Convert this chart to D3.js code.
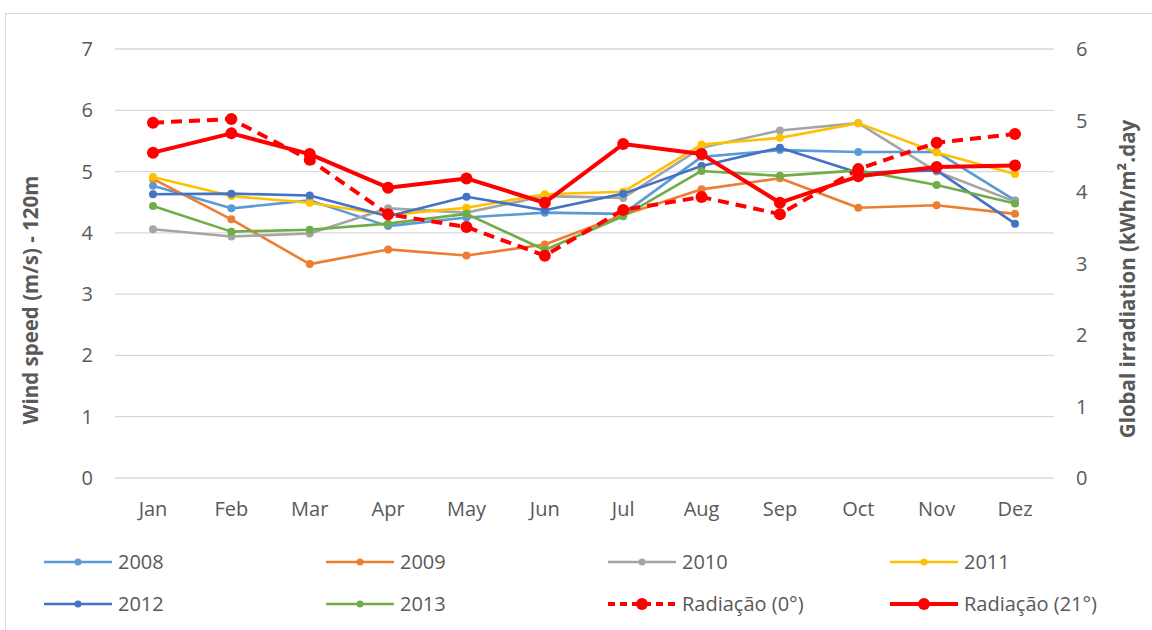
<!DOCTYPE html>
<html>
<head>
<meta charset="utf-8">
<script src="https://cdn.jsdelivr.net/npm/d3@7"></script>
<style>
  body { margin: 0; background: #fff; }
  svg text { font-family: "Open Sans", "Noto Sans", sans-serif; fill: #595959; }
</style>
</head>
<body>
<svg id="chart" width="1152" height="630"></svg>
<script>
var months = ["Jan", "Feb", "Mar", "Apr", "May", "Jun", "Jul", "Aug", "Sep", "Oct", "Nov", "Dez"];

// wind speed (m/s) at 120m, left axis
var wind2008 = [4.77, 4.40, 4.53, 4.11, 4.25, 4.33, 4.31, 5.24, 5.35, 5.32, 5.32, 4.53];
var wind2009 = [4.88, 4.22, 3.49, 3.73, 3.63, 3.81, 4.29, 4.71, 4.89, 4.41, 4.45, 4.31];
var wind2010 = [4.06, 3.94, 3.99, 4.40, 4.33, 4.60, 4.57, 5.39, 5.67, 5.79, 5.00, 4.51];
var wind2011 = [4.91, 4.60, 4.49, 4.29, 4.41, 4.63, 4.67, 5.44, 5.55, 5.79, 5.31, 4.96];
var wind2012 = [4.63, 4.64, 4.61, 4.27, 4.59, 4.37, 4.64, 5.09, 5.39, 4.98, 5.02, 4.15];
var wind2013 = [4.44, 4.02, 4.05, 4.15, 4.31, 3.72, 4.27, 5.01, 4.93, 5.02, 4.78, 4.48];

// global irradiation (kWh/m2.day), right axis
var rad0 = [4.97, 5.02, 4.45, 3.69, 3.51, 3.11, 3.75, 3.93, 3.69, 4.32, 4.69, 4.81];
var rad21 = [4.55, 4.82, 4.53, 4.06, 4.19, 3.85, 4.67, 4.53, 3.85, 4.22, 4.35, 4.37];

var leftTicks = [0, 1, 2, 3, 4, 5, 6, 7];
var rightTicks = [0, 1, 2, 3, 4, 5, 6];

var series = [
  {name: "2008", values: wind2008, color: "#5B9BD5", axis: "left"},
  {name: "2009", values: wind2009, color: "#ED7D31", axis: "left"},
  {name: "2010", values: wind2010, color: "#A5A5A5", axis: "left"},
  {name: "2011", values: wind2011, color: "#FFC000", axis: "left"},
  {name: "2012", values: wind2012, color: "#4472C4", axis: "left"},
  {name: "2013", values: wind2013, color: "#70AD47", axis: "left"},
  {name: "Radiação (0°)", values: rad0, color: "#FF0000", axis: "right", dash: true},
  {name: "Radiação (21°)", values: rad21, color: "#FF0000", axis: "right"}
];

var svg = d3.select("#chart");

// outer chart border
svg.append("rect")
    .attr("x", 5.5).attr("y", 13.5)
    .attr("width", 1160).attr("height", 640)
    .attr("fill", "none")
    .attr("stroke", "#D9D9D9");

var plot = {left: 115, right: 1054, top: 49, bottom: 478};

var x = d3.scalePoint()
    .domain(months)
    .range([153, 1015]);

var yL = d3.scaleLinear().domain([0, 7]).range([plot.bottom, plot.top]);
var yR = d3.scaleLinear().domain([0, 6]).range([plot.bottom, plot.top]);

// gridlines
svg.append("g")
  .selectAll("line")
  .data(leftTicks)
  .enter().append("line")
    .attr("x1", plot.left).attr("x2", plot.right)
    .attr("y1", function(d) { return yL(d); })
    .attr("y2", function(d) { return yL(d); })
    .attr("stroke", "#D9D9D9")
    .attr("stroke-width", 1.3);

// left axis labels
svg.append("g")
  .selectAll("text")
  .data(leftTicks)
  .enter().append("text")
    .attr("x", 93)
    .attr("y", function(d) { return yL(d); })
    .attr("dy", "0.35em")
    .attr("text-anchor", "end")
    .style("font-size", "20px")
    .text(function(d) { return d; });

// right axis labels
svg.append("g")
  .selectAll("text")
  .data(rightTicks)
  .enter().append("text")
    .attr("x", 1076)
    .attr("y", function(d) { return yR(d); })
    .attr("dy", "0.35em")
    .attr("text-anchor", "start")
    .style("font-size", "20px")
    .text(function(d) { return d; });

// month labels
svg.append("g")
  .selectAll("text")
  .data(months)
  .enter().append("text")
    .attr("x", function(d) { return x(d); })
    .attr("y", 509)
    .attr("dy", "0.35em")
    .attr("text-anchor", "middle")
    .style("font-size", "20px")
    .text(function(d) { return d; });

// axis titles
svg.append("text")
    .attr("transform", "translate(31," + 300 + ") rotate(-90)")
    .attr("text-anchor", "middle")
    .attr("dy", "0.35em")
    .style("font-size", "20.5px")
    .style("font-weight", "bold")
    .text("Wind speed (m/s) - 120m");

svg.append("text")
    .attr("transform", "translate(1128," + 279 + ") rotate(-90)")
    .attr("text-anchor", "middle")
    .attr("dy", "0.35em")
    .style("font-size", "20.5px")
    .style("font-weight", "bold")
    .text("Global irradiation (kWh/m².day");

// lines
var lines = svg.append("g");
series.forEach(function(s) {
  var y = s.axis === "left" ? yL : yR;
  var big = s.axis === "right";
  var line = d3.line()
      .x(function(d, i) { return x(months[i]); })
      .y(function(d) { return y(d); });
  var g = lines.append("g");
  g.append("path")
      .datum(s.values)
      .attr("d", line)
      .attr("fill", "none")
      .attr("stroke", s.color)
      .attr("stroke-width", big ? 4 : 2.6)
      .attr("stroke-dasharray", s.dash ? "11,7" : null)
      .attr("stroke-linejoin", "round");
  g.selectAll("circle")
      .data(s.values)
      .enter().append("circle")
      .attr("cx", function(d, i) { return x(months[i]); })
      .attr("cy", function(d) { return y(d); })
      .attr("r", big ? 6 : 4)
      .attr("fill", s.color);
});

// legend
var legend = svg.append("g");
series.forEach(function(s, i) {
  var col = i % 4, row = Math.floor(i / 4);
  var lx = 44 + col * 282, ly = 562 + row * 42;
  var big = s.axis === "right";
  var item = legend.append("g").attr("transform", "translate(" + lx + "," + ly + ")");
  item.append("line")
      .attr("x1", 0).attr("x2", 68)
      .attr("stroke", s.color)
      .attr("stroke-width", big ? 4 : 2.6)
      .attr("stroke-dasharray", s.dash ? "7,5" : null);
  item.append("circle")
      .attr("cx", 34).attr("r", big ? 6 : 3.5)
      .attr("fill", s.color);
  item.append("text")
      .attr("x", 74)
      .attr("dy", "0.35em")
      .style("font-size", "20px")
      .text(s.name);
});
</script>
</body>
</html>
